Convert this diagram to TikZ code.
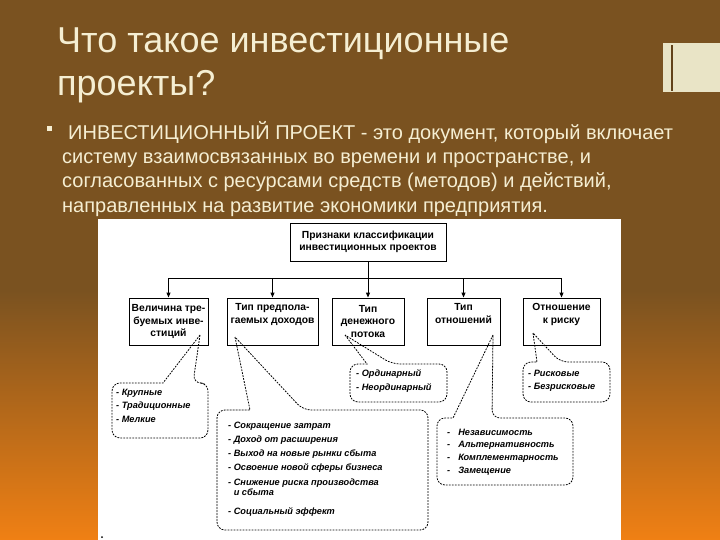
\documentclass[tikz,border=0pt]{standalone}
\usepackage{fontspec}
\setmainfont{Liberation Sans}
\usetikzlibrary{calc, arrows.meta, positioning}

\definecolor{slidebrown}{RGB}{122,82,32}
\definecolor{slideorange}{RGB}{240,128,20}
\definecolor{slidecream}{RGB}{245,238,210}
\definecolor{barcream}{RGB}{233,228,198}

\tikzset{
  box/.style={draw, line width=0.9pt, align=center, inner sep=0pt, font=\bfseries\fontsize{10.3}{12.5}\selectfont},
  bubble/.style={line width=0.8pt, dash pattern=on 1.8pt off 1.2pt},
  items/.style={anchor=north west, align=left, inner sep=0pt, font=\bfseries\itshape\fontsize{9.2}{13.5}\selectfont},
  feed/.style={line width=0.9pt, -{Triangle[length=5pt,width=4pt]}},
  slidetext/.style={anchor=base west, inner sep=0pt, text=slidecream}
}

\begin{document}
\begin{tikzpicture}[x=1pt,y=-1pt]
\useasboundingbox (0,0) rectangle (720,540);
\fill[slidebrown] (0,0) rectangle (720,540);
\shade[top color=slidebrown, bottom color=slideorange] (0,290) rectangle (720,540);
\fill[barcream] (663,43) rectangle (720,92);
\fill[slidebrown!80!black] (670.5,45) rectangle (672.5,91);

\node[slidetext, font=\fontsize{36}{40}\selectfont] (title1) at (57,53) {Что такое инвестиционные};
\node[slidetext, font=\fontsize{36}{40}\selectfont] (title2) at (57,96) {проекты?};

\fill[slidecream] (47,126) rectangle (52,131);
\node[slidetext, font=\fontsize{20}{24}\selectfont] (def1) at (68,140) {ИНВЕСТИЦИОННЫЙ ПРОЕКТ - это документ, который включает};
\node[slidetext, font=\fontsize{20}{24}\selectfont] (def2) at (62,164) {систему взаимосвязанных во времени и пространстве, и};
\node[slidetext, font=\fontsize{20}{24}\selectfont] (def3) at (62,188) {согласованных с ресурсами средств (методов) и действий,};
\node[slidetext, font=\fontsize{20}{24}\selectfont] (def4) at (62,212) {направленных на развитие экономики предприятия.};

\fill[white] (98,219) rectangle (621,540);

\node[box, minimum width=156pt, minimum height=38pt] (signs) at (368,242) {Признаки классификации\\инвестиционных проектов};
\node[box, minimum width=79pt, minimum height=47pt] (size) at (168.5,321.5) {Величина тре-\\буемых инве-\\стиций};
\node[box, minimum width=91pt, minimum height=47pt] (income) at (272.5,321.5) {Тип предпола-\\гаемых доходов\\\strut};
\node[box, minimum width=72pt, minimum height=47pt] (flow) at (368,321.5) {Тип\\денежного\\потока};
\node[box, minimum width=73pt, minimum height=47pt] (relation) at (463.5,321.5) {Тип\\отношений\\\strut};
\node[box, minimum width=77pt, minimum height=47pt] (risk) at (561.5,321.5) {Отношение\\к риску\\\strut};

\coordinate (fork) at (368,278);
\draw[feed] (signs) -- (flow);
\foreach \n in {size,income,relation,risk}
  \draw[feed] (fork) -| (\n);

\coordinate (tip1) at (200,335);
\coordinate (tip2) at (235,337);
\coordinate (tip3) at (345,335);
\coordinate (tip4) at (493,335);
\coordinate (tip5) at (533,333);

\draw[bubble] (tip1) -- (163,383) [rounded corners=8pt] -- (112,383) |- (208,438) |- (193,383) [sharp corners] -- (tip1);
\draw[bubble] (tip2) -- (250,410) [rounded corners=8pt] -- (217,410) |- (428,530) |- (303,410) [sharp corners] -- (tip2);
\draw[bubble] (tip3) -- (367,364) [rounded corners=8pt] -- (350,364) |- (447,402) |- (392,364) [sharp corners] -- (tip3);
\draw[bubble] (tip4) -- (453,418) [rounded corners=8pt] -- (437,418) |- (573,485) |- (492,418) [sharp corners] -- (tip4);
\draw[bubble] (tip5) -- (537,362) [rounded corners=8pt] -- (523,362) |- (610,402) |- (560,362) [sharp corners] -- (tip5);

\node[items] (sizelist) at (116,388.5) {- Крупные\\- Традиционные\\- Мелкие};
\node[items, font=\bfseries\itshape\fontsize{9.2}{10}\selectfont] (incomelist) at (228,421.5)
  {- Сокращение затрат\\[4pt]- Доход от расширения\\[4pt]- Выход на новые рынки сбыта\\[4pt]- Освоение новой сферы бизнеса\\[5pt]- Снижение риска производства\\\phantom{- }и сбыта\\[9pt]- Социальный эффект};
\node[items] (flowlist) at (356,369.5) {- Ординарный\\- Неординарный};
\node[items, font=\bfseries\itshape\fontsize{9.2}{12.7}\selectfont] (relationlist) at (447,428.5)
  {-\hspace{8pt}Независимость\\-\hspace{8pt}Альтернативность\\-\hspace{8pt}Комплементарность\\-\hspace{8pt}Замещение};
\node[items] (risklist) at (528,369.5) {- Рисковые\\- Безрисковые};

\fill (102,537) circle (1);
\end{tikzpicture}
\end{document}
